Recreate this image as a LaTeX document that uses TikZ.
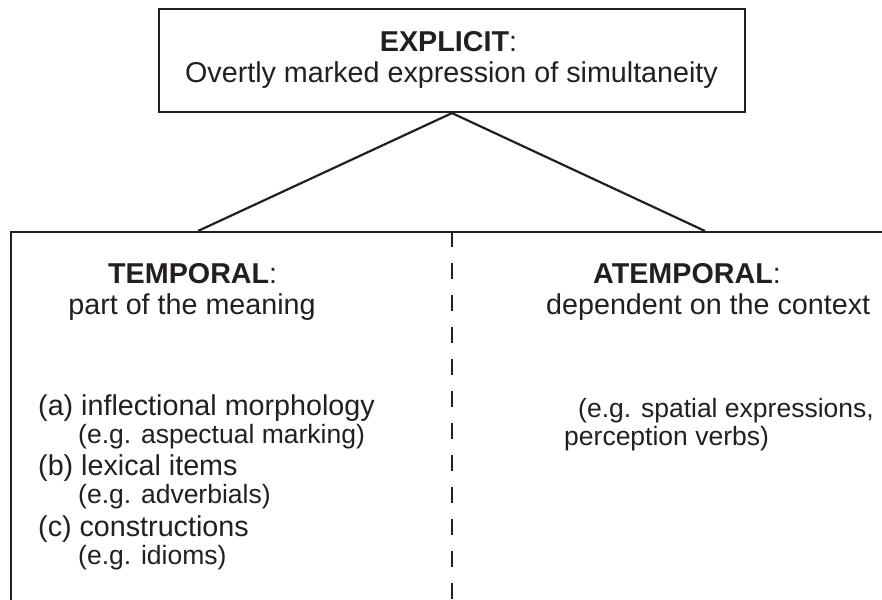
\documentclass[tikz,border=0pt]{standalone}
\usepackage{fontspec}
\setmainfont{Liberation Sans}
\definecolor{ink}{RGB}{35,31,32}
\newcommand\mainsize{\fontsize{28.7}{34}\selectfont}
\newcommand\subsize{\fontsize{26.5}{31}\selectfont}
\begin{document}
\begin{tikzpicture}[x=1pt,y=-1pt,
  frame/.style={draw=ink,line width=2.2pt,inner sep=0pt},
  conn/.style={draw=ink,line width=2.2pt},
  divider/.style={draw=ink,line width=2pt,dash pattern=on 16pt off 16pt},
  maintxt/.style={inner sep=0pt,text=ink,font=\mainsize},
  subtxt/.style={inner sep=0pt,text=ink,font=\subsize}]
\useasboundingbox (0,0) rectangle (882,599);
\clip (0,0) rectangle (882,599);
% top box
\node[frame,minimum width=586pt,minimum height=103pt] (top) at (452,60.5) {};
\node[maintxt,anchor=base] (expl) at (448.5,52) {\textbf{EXPLICIT}:};
\node[maintxt,anchor=base] (over) at (451.5,83) {Overtly marked expression of simultaneity};
% lower box (cut by the page edges)
\node[frame,anchor=north west,minimum width=900pt,minimum height=420pt] (low) at (10,231) {};
\coordinate (tl) at (198,231);
\coordinate (tr) at (705,231);
\draw[conn] (top.south) -- (tl);
\draw[conn] (top.south) -- (tr);
\coordinate (dtop) at (452,231);
\coordinate (dbot) at (452,599);
\draw[divider] (dtop) -- (dbot);
% left column
\node[maintxt,anchor=base west] (temp) at (108,283) {\textbf{TEMPORAL}:};
\node[maintxt,anchor=base] (tempd) at (192,314) {part of the meaning};
\node[maintxt,anchor=base west] (ia) at (38,415) {(a) inflectional morphology};
\node[subtxt,anchor=base west] (ea) at (78,443) {(e.g. aspectual marking)};
\node[maintxt,anchor=base west] (ib) at (38,475) {(b) lexical items};
\node[subtxt,anchor=base west] (eb) at (78,503) {(e.g. adverbials)};
\node[maintxt,anchor=base west] (ic) at (38,536) {(c) constructions};
\node[subtxt,anchor=base west] (ec) at (78,564) {(e.g. idioms)};
% right column
\node[maintxt,anchor=base west] (atemp) at (593,283) {\textbf{ATEMPORAL}:};
\node[maintxt,anchor=base west] (atempd) at (546,314) {dependent on the context};
\node[subtxt,anchor=base west] (sp) at (578,417) {(e.g. spatial expressions,};
\node[subtxt,anchor=base west] (pv) at (564,445) {perception verbs)};
\end{tikzpicture}
\end{document}
